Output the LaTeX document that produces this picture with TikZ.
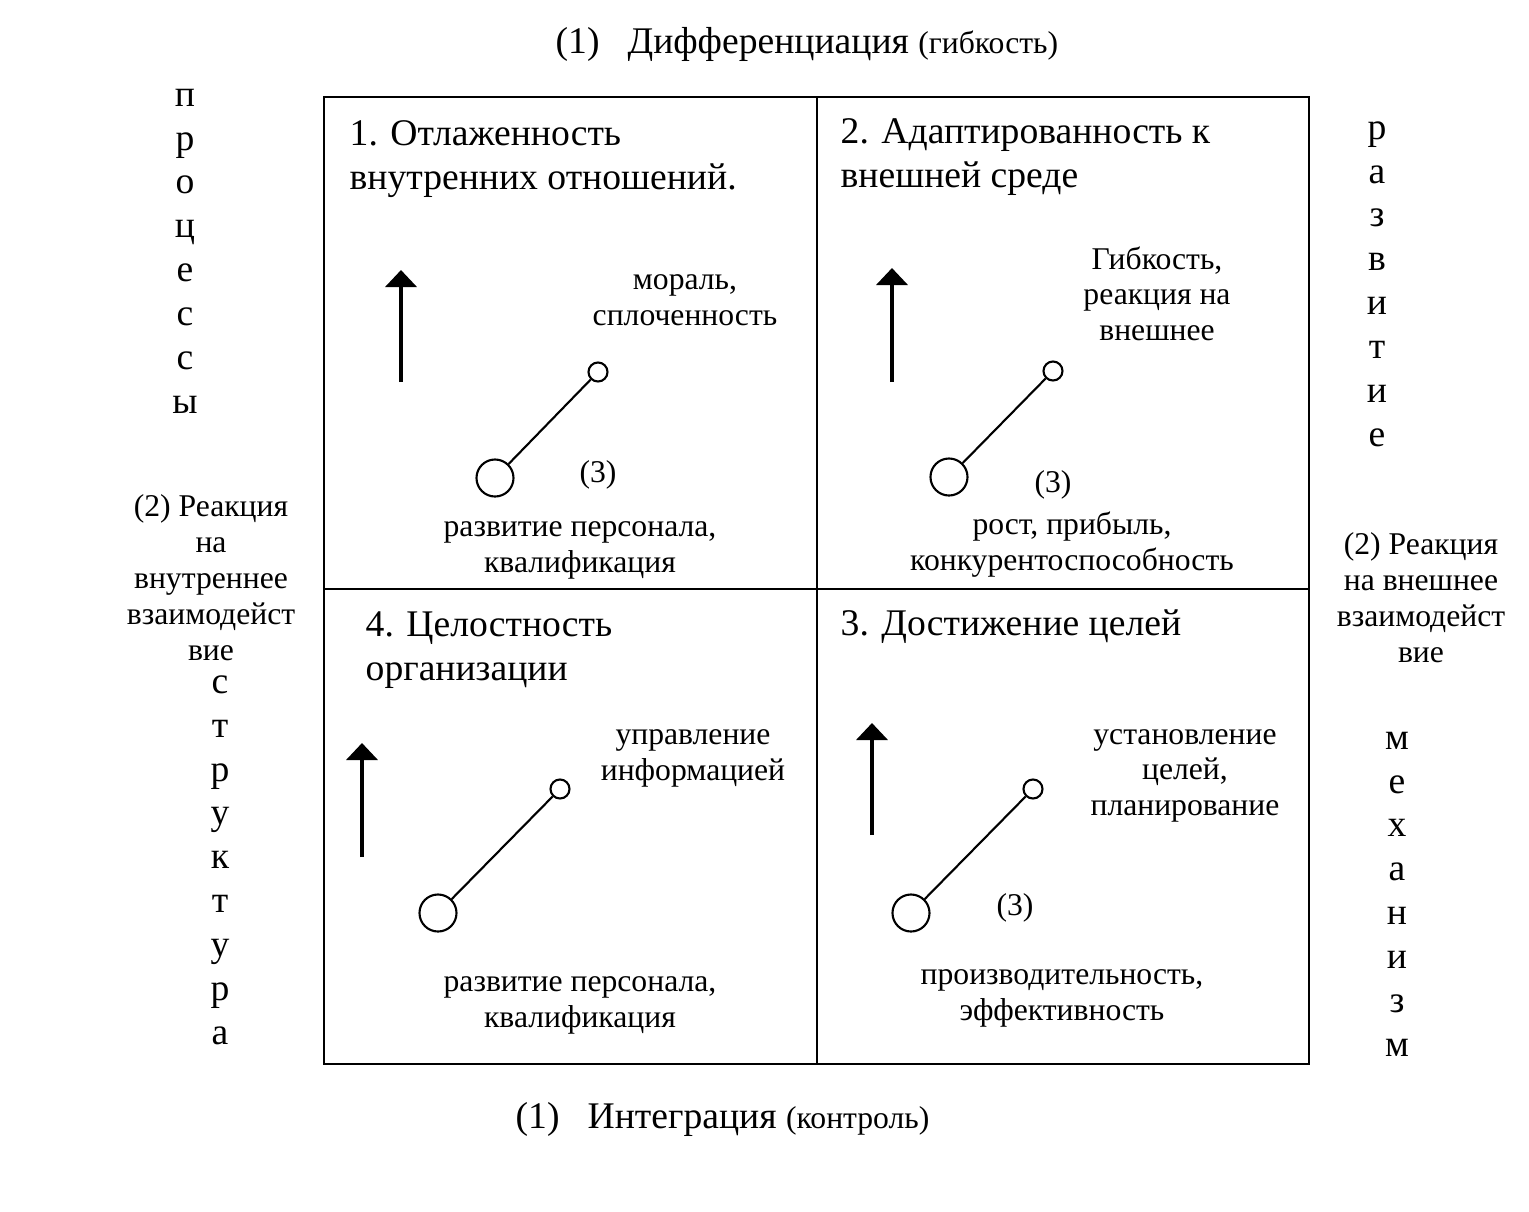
\documentclass[tikz,border=0pt]{standalone}
\usepackage{fontspec}
\setmainfont{Liberation Serif}
\usepackage{tikz}
\usetikzlibrary{arrows.meta,positioning}

\begin{document}
\begin{tikzpicture}[
	x=0.01cm, y=-0.01cm,
	qtitle/.style = {font=\fontsize{10.7}{12.5}\selectfont, align=left,
		anchor=base west, inner sep=0pt},
	note/.style = {font=\fontsize{9}{10}\selectfont, align=center,
		anchor=base, inner sep=0pt},
	side/.style = {font=\fontsize{9}{10.2}\selectfont, align=center,
		anchor=base, inner sep=0pt},
	vert/.style = {font=\fontsize{10.7}{12.46}\selectfont, align=center,
		anchor=base, inner sep=0pt},
	bigdot/.style = {circle, draw, line width=0.6pt, minimum size=0.37cm, inner sep=0pt},
	smalldot/.style = {circle, draw, line width=0.6pt, minimum size=0.19cm, inner sep=0pt},
	link/.style = {line width=0.6pt},
	rise/.style = {line width=1.1pt, -{Triangle[length=0.17cm, width=0.31cm]}},
	]
	\useasboundingbox (0,0) rectangle (1529,1211);

	% the four fields
	\draw[line width=0.7pt] (324,97) rectangle (1309,1064);
	\draw[line width=0.7pt] (817,97) -- (817,1064);
	\draw[line width=0.7pt] (324,589) -- (1309,589);

	% axis texts (base = last line)
	\node[anchor=base west, inner sep=0pt, font=\fontsize{10.7}{13}\selectfont] (diff) at (555,53)
		{(1)\hspace{8pt}Дифференциация {\fontsize{9}{10}\selectfont(гибкость)}};
	\node[anchor=base west, inner sep=0pt, font=\fontsize{10.7}{13}\selectfont] (integ) at (515,1128)
		{(1)\hspace{8pt}Интеграция {\fontsize{9}{10}\selectfont(контроль)}};

	\node[vert] (proc) at (185,413) {п\\р\\о\\ц\\е\\с\\с\\ы};
	\node[vert] (struct) at (220,1044) {с\\т\\р\\у\\к\\т\\у\\р\\а};
	\node[vert] (razv) at (1377,446) {р\\а\\з\\в\\и\\т\\и\\е};
	\node[vert] (mech) at (1397,1056) {м\\е\\х\\а\\н\\и\\з\\м};

	\node[side] (inner) at (211,660) {(2) Реакция\\на\\внутреннее\\взаимодейст\\вие};
	\node[side] (outer) at (1421,662) {(2) Реакция\\на внешнее\\взаимодейст\\вие};

	% 1
	\node[qtitle] (t1) at (349,189) {1. Отлаженность\\внутренних отношений.};
	\node[note] (hi1) at (685,325) {мораль,\\сплоченность};
	\node[note] (lo1) at (580,572) {развитие персонала,\\квалификация};
	\node[note] (n1) at (598,482) {(3)};
	\node[smalldot] (s1) at (598,372) {};
	\node[bigdot] (b1) at (495,478) {};
	\draw[link] (s1) -- (b1);
	\coordinate (a1) at (401,382);
	\coordinate (e1) at (401,270);
	\draw[rise] (a1) -- (e1);

	% 2
	\node[qtitle] (t2) at (840,187) {2. Адаптированность к\\внешней среде};
	\node[note] (hi2) at (1157,340) {Гибкость,\\реакция на\\внешнее};
	\node[note] (lo2) at (1072,570) {рост, прибыль,\\конкурентоспособность};
	\node[note] (n2) at (1053,492) {(3)};
	\node[smalldot] (s2) at (1053,371) {};
	\node[bigdot] (b2) at (949,477) {};
	\draw[link] (s2) -- (b2);
	\coordinate (a2) at (892,382);
	\coordinate (e2) at (892,268);
	\draw[rise] (a2) -- (e2);

	% 4
	\node[qtitle] (t4) at (365,680) {4. Целостность\\организации};
	\node[note] (hi4) at (693,780) {управление\\информацией};
	\node[note] (lo4) at (580,1027) {развитие персонала,\\квалификация};
	\node[smalldot] (s4) at (560,789) {};
	\node[bigdot] (b4) at (438,913) {};
	\draw[link] (s4) -- (b4);
	\coordinate (a4) at (362,857);
	\coordinate (e4) at (362,743);
	\draw[rise] (a4) -- (e4);

	% 3
	\node[qtitle] (t3) at (840,635) {3. Достижение целей};
	\node[note] (hi3) at (1185,815) {установление\\целей,\\планирование};
	\node[note] (lo3) at (1062,1020) {производительность,\\эффективность};
	\node[note] (n3) at (1015,915) {(3)};
	\node[smalldot] (s3) at (1033,789) {};
	\node[bigdot] (b3) at (911,913) {};
	\draw[link] (s3) -- (b3);
	\coordinate (a3) at (872,835);
	\coordinate (e3) at (872,723);
	\draw[rise] (a3) -- (e3);
\end{tikzpicture}
\end{document}
